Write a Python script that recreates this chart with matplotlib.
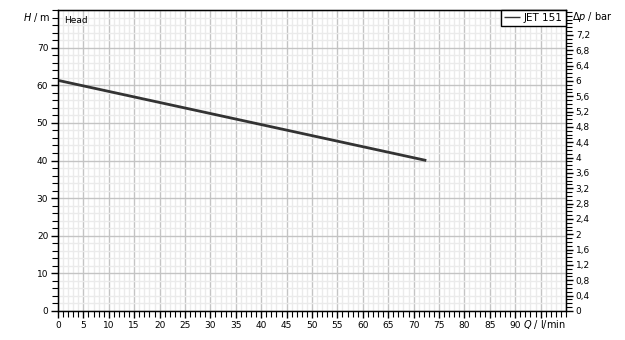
import numpy as np
import matplotlib.pyplot as plt
from matplotlib.ticker import MultipleLocator, FixedLocator

# pump curve
q_flow = [0, 72.5]        # l/min
h_head = [61.3, 40.0]     # m
series_name = 'JET 151'

x_ticks = list(range(0, 100, 5))
x_labels = [str(v) for v in range(0, 95, 5)] + ['']
y_ticks = list(range(0, 80, 10))
bar_ticks = [round(0.4 * i, 1) for i in range(19)]

h_max = 80.0
bar_per_m = 1000 * 9.81 / 1e5

plt.rcParams['font.family'] = 'DejaVu Sans'
plt.rcParams['font.size'] = 6.5
plt.rcParams['mathtext.default'] = 'it'

fig = plt.figure(figsize=(6.25, 3.4), dpi=100)
ax = fig.add_axes([58 / 625, 29 / 340, 508 / 625, 301 / 340])

ax.set_xlim(0, 100)
ax.set_ylim(0, h_max)

ax.xaxis.set_major_locator(FixedLocator(x_ticks))
ax.xaxis.set_minor_locator(MultipleLocator(1))
ax.yaxis.set_major_locator(FixedLocator(y_ticks))
ax.yaxis.set_minor_locator(MultipleLocator(2))

# grid
for v in np.arange(0, 101, 1):
    ax.axvline(v, color='#c4c4c4' if v % 5 == 0 else '#ebebeb', lw=1, zorder=0)
for v in np.arange(0, 81, 2):
    ax.axhline(v, color='#c4c4c4' if v % 10 == 0 else '#ebebeb', lw=1, zorder=0)

ax.plot(q_flow, h_head, color='#333333', lw=2, solid_capstyle='butt', label=series_name, zorder=3)

ax.tick_params(which='major', direction='out', length=5, width=1, pad=2, colors='black')
ax.tick_params(which='minor', direction='out', length=4, width=0.8)
ax.set_xticklabels(x_labels)
ax.set_yticklabels([str(v) for v in y_ticks])

for s in ax.spines.values():
    s.set_linewidth(1)

# right pressure axis
ax2 = ax.twinx()
ax2.set_ylim(0, h_max * bar_per_m)
ax2.yaxis.set_major_locator(FixedLocator(bar_ticks))
ax2.yaxis.set_minor_locator(MultipleLocator(0.1))
ax2.set_yticklabels([('%g' % v).replace('.', ',') for v in bar_ticks])
ax2.tick_params(which='major', direction='out', length=5, width=1, pad=2)
ax2.tick_params(which='minor', direction='out', length=4, width=0.8)

# axis titles placed like the original
ax.text(-0.014, 0.975, '$H$ / m', transform=ax.transAxes, ha='right', va='center', fontsize=7)
ax.text(1.012, 0.978, '\u0394$p$ / bar', transform=ax.transAxes, ha='left', va='center', fontsize=7)
ax.text(1.0, -0.045, '$Q$ / l/min', transform=ax.transAxes, ha='right', va='center', fontsize=7)
ax.text(0.012, 0.965, 'Head', transform=ax.transAxes, ha='left', va='center', fontsize=6.5)

leg = ax.legend(loc='upper right', frameon=True, fancybox=False, borderpad=0.3,
                handlelength=1.5, handletextpad=0.4, borderaxespad=0, fontsize=7.5)
leg.get_frame().set_edgecolor('black')
leg.get_frame().set_linewidth(1)
leg.get_frame().set_alpha(1)
for ln in leg.get_lines():
    ln.set_linewidth(1)

fig.savefig('out.png', dpi=100)
